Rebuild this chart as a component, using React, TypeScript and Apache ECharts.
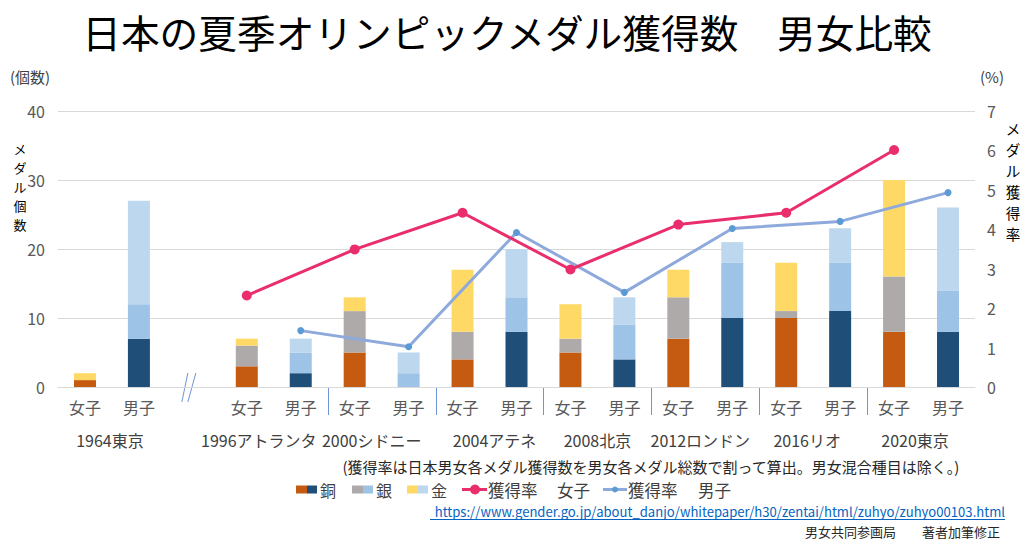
import React, { useEffect, useRef } from "react";
import * as echarts from "echarts";

const games = ["1964東京", "1996アトランタ", "2000シドニー", "2004アテネ", "2008北京", "2012ロンドン", "2016リオ", "2020東京"];
const womenBronze = [1, 3, 5, 4, 5, 7, 10, 8];
const womenSilver = [0, 3, 6, 4, 2, 6, 1, 8];
const womenGold = [1, 1, 2, 9, 5, 4, 7, 14];
const menBronze = [7, 2, 0, 8, 4, 10, 11, 8];
const menSilver = [5, 3, 2, 5, 5, 8, 7, 6];
const menGold = [15, 2, 3, 7, 4, 3, 5, 12];
const womenRate = [null, 2.32, 3.49, 4.42, 2.98, 4.12, 4.42, 6.01];
const menRate = [null, 1.43, 1.02, 3.92, 2.4, 4.02, 4.2, 4.93];
const leftTicks = [0, 40, 10];
const rightTicks = [0, 7, 1];
const leftName = ["メ", "ダ", "ル", "個", "数"];
const rightName = ["メ", "ダ", "ル", "獲", "得", "率"];

const FONT = "'Noto Sans CJK JP', 'Noto Sans', sans-serif";
const C = {
  wBronze: "#C55A11", wSilver: "#AEAAAA", wGold: "#FFD966",
  mBronze: "#1F4E79", mSilver: "#9DC3E6", mGold: "#BDD7EE",
  wLine: "#EA2E6C", mLine: "#8EA9DB", mDot: "#5B9BD5", sep: "#6F94D8",
};

// category layout: women/men per game, with a gap slot after 1964
const wIdx = (i: number) => (i === 0 ? 0 : 2 * i + 1);
const mIdx = (i: number) => (i === 0 ? 1 : 2 * i + 2);
const N = 17;
const categories: string[] = Array.from({ length: N }, () => "");
games.forEach((_, i) => { categories[wIdx(i)] = "女子"; categories[mIdx(i)] = "男子"; });

const place = (vals: (number | null)[], idx: (i: number) => number) => {
  const out: (number | null)[] = Array.from({ length: N }, () => null);
  vals.forEach((v, i) => { out[idx(i)] = v; });
  return out;
};

const groupLabelShift = [-2, -15, -10, 5, 0, -5, -6, -6];

export default function App() {
  const ref = useRef<HTMLDivElement>(null);
  useEffect(() => {
    document.body.style.margin = "0";
    const chart = echarts.init(ref.current!, null, { renderer: "svg" });
    const bar = (name: string, data: (number | null)[], color: string) => ({
      name, type: "bar", stack: "m", data, barWidth: 22,
      itemStyle: { color }, z: 2,
    });
    chart.setOption({
      animation: false,
      textStyle: { fontFamily: FONT },
      grid: { left: 58, right: 59, top: 111, bottom: 163, containLabel: false },
      xAxis: {
        type: "category", data: categories,
        axisLine: { lineStyle: { color: "#D9D9D9", width: 1 } },
        axisTick: { show: false },
        axisLabel: { color: "#595959", fontSize: 16, margin: 12, interval: 0, fontFamily: FONT },
      },
      yAxis: [
        {
          type: "value", min: leftTicks[0], max: leftTicks[1], interval: leftTicks[2],
          axisLabel: { color: "#595959", fontSize: 16, margin: 13, fontFamily: FONT },
          splitLine: { lineStyle: { color: "#D9D9D9", width: 1 } },
          axisLine: { show: false }, axisTick: { show: false },
        },
        {
          type: "value", min: rightTicks[0], max: rightTicks[1], interval: rightTicks[2],
          position: "right",
          axisLabel: { color: "#595959", fontSize: 16, margin: 12, fontFamily: FONT },
          splitLine: { show: false }, axisLine: { show: false }, axisTick: { show: false },
        },
      ],
      series: [
        bar("銅 女子", place(womenBronze, wIdx), C.wBronze),
        bar("銀 女子", place(womenSilver, wIdx), C.wSilver),
        bar("金 女子", place(womenGold, wIdx), C.wGold),
        bar("銅 男子", place(menBronze, mIdx), C.mBronze),
        bar("銀 男子", place(menSilver, mIdx), C.mSilver),
        bar("金 男子", place(menGold, mIdx), C.mGold),
        {
          name: "獲得率　女子", type: "line", yAxisIndex: 1, data: place(womenRate, wIdx),
          connectNulls: true, symbol: "circle", symbolSize: 10, z: 5,
          lineStyle: { color: C.wLine, width: 3 }, itemStyle: { color: C.wLine },
        },
        {
          name: "獲得率　男子", type: "line", yAxisIndex: 1, data: place(menRate, mIdx),
          connectNulls: true, symbol: "circle", symbolSize: 7, z: 4,
          lineStyle: { color: C.mLine, width: 3 }, itemStyle: { color: C.mDot },
        },
      ],
    });

    const px = (i: number) => chart.convertToPixel({ xAxisIndex: 0 }, i) as number;
    const y0 = chart.convertToPixel({ yAxisIndex: 0 }, 0) as number;
    const step = px(1) - px(0);
    const g: any[] = [];
    const txt = (x: number, y: number, text: string, size: number, fill: string, align = "left", extra: any = {}) =>
      g.push({ type: "text", x, y, style: { text, fontSize: size, fontFamily: FONT, fill, align, verticalAlign: "middle", ...extra } });
    // title
    txt(507, 31, "日本の夏季オリンピックメダル獲得数　男女比較", 38.7, "#000", "center");
    // group labels
    games.forEach((name, i) => {
      const cx = (px(wIdx(i)) + px(mIdx(i))) / 2 + groupLabelShift[i];
      txt(cx, y0 + 53, name, 16, "#404040", "center");
    });
    // separators between games
    for (let i = 1; i < games.length - 1; i++) {
      const x = Math.round(px(mIdx(i)) + step / 2) + 0.5;
      g.push({ type: "line", shape: { x1: x, y1: y0, x2: x, y2: y0 + 28 }, style: { stroke: C.sep, lineWidth: 1 } });
    }
    // axis break marks
    const bx = px(2);
    g.push({ type: "line", shape: { x1: bx - 11, y1: y0 + 15, x2: bx - 5, y2: y0 - 14 }, style: { stroke: C.sep, lineWidth: 1 } });
    g.push({ type: "line", shape: { x1: bx - 5, y1: y0 + 15, x2: bx + 3, y2: y0 - 14 }, style: { stroke: C.sep, lineWidth: 1 } });
    // axis units and names (vertical, one glyph per line)
    txt(10, 76, "(個数)", 15, "#404040");
    txt(980, 76, "(%)", 15, "#404040");
    leftName.forEach((ch, i) => txt(20, 186 + (i - 2) * 19, ch, 13, "#000", "center"));
    rightName.forEach((ch, i) => txt(1013, 181 + (i - 2.5) * 21, ch, 14.5, "#000", "center"));
    // note
    txt(651, 466, "(獲得率は日本男女各メダル獲得数を男女各メダル総数で割って算出。男女混合種目は除く。)", 15, "#262626", "center");
    // legend
    const LY = 489.5;
    const sw = (x: number, c1: string, c2: string, label: string) => {
      g.push({ type: "rect", shape: { x, y: LY - 4, width: 11, height: 8 }, style: { fill: c1 } });
      g.push({ type: "rect", shape: { x: x + 11, y: LY - 4, width: 10, height: 8 }, style: { fill: c2 } });
      txt(x + 24, LY, label, 16, "#404040");
    };
    sw(296, C.wBronze, C.mBronze, "銅");
    sw(352, C.wSilver, C.mSilver, "銀");
    sw(407, C.wGold, C.mGold, "金");
    g.push({ type: "line", shape: { x1: 462, y1: LY, x2: 487, y2: LY }, style: { stroke: C.wLine, lineWidth: 3 } });
    g.push({ type: "circle", shape: { cx: 475, cy: LY, r: 5 }, style: { fill: C.wLine } });
    txt(488, LY, "獲得率", 16.5, "#404040");
    txt(557, LY, "女子", 16.5, "#404040");
    g.push({ type: "line", shape: { x1: 603, y1: LY, x2: 627, y2: LY }, style: { stroke: C.mLine, lineWidth: 3 } });
    g.push({ type: "circle", shape: { cx: 615, cy: LY, r: 3 }, style: { fill: C.mDot } });
    txt(628, LY, "獲得率", 16.5, "#404040");
    txt(698, LY, "男子", 16.5, "#404040");
    // source
    txt(1005, 511.5, "https://www.gender.go.jp/about_danjo/whitepaper/h30/zentai/html/zuhyo/zuhyo00103.html", 13.1, "#0563C1", "right");
    g.push({ type: "line", shape: { x1: 430, y1: 519.5, x2: 1005, y2: 519.5 }, style: { stroke: "#0563C1", lineWidth: 1 } });
    txt(1000, 531.5, "男女共同参画局　　著者加筆修正", 13, "#262626", "right");
    chart.setOption({ graphic: g });
    return () => chart.dispose();
  }, []);
  return <div ref={ref} style={{ position: "absolute", left: 0, top: 0, width: 1034, height: 550, background: "#fff" }} />;
}
